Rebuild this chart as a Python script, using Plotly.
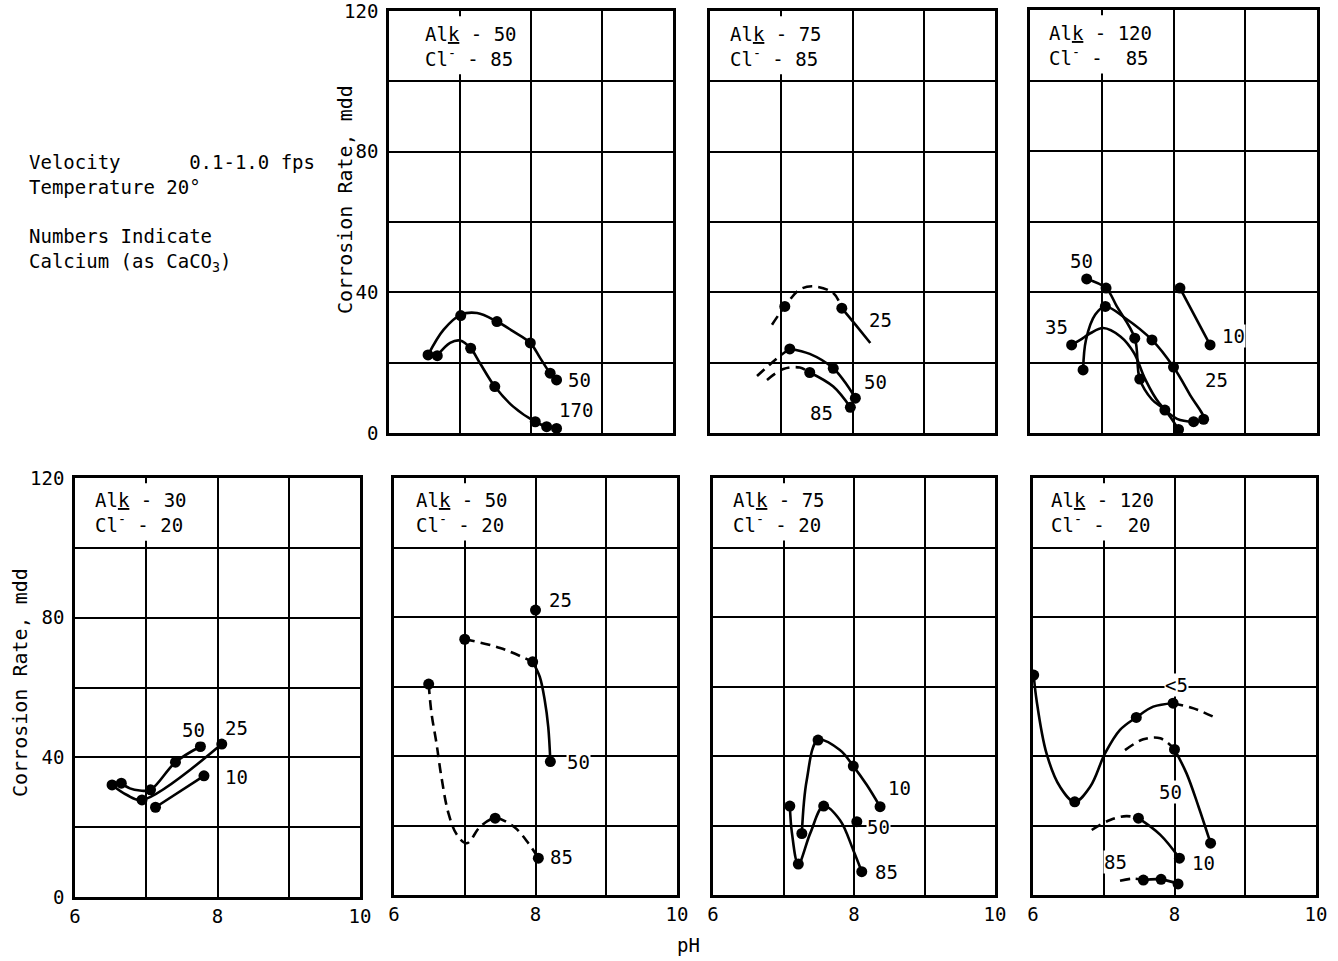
import plotly.graph_objects as go

W, H = 1338, 961
FONT = "DejaVu Sans Mono"
FS = 19
NB = "\u00a0"

# ---------------- axis ticks ----------------
x_tick_vals = [6, 7, 8, 9, 10]
x_tick_text = ["6", " ", "8", " ", "10"]
y_tick_vals = [0, 20, 40, 60, 80, 100, 120]
y_tick_text = ["0", " ", "40", " ", "80", " ", "120"]

# ---------------- panel: Alk 50 / Cl 85 (top) ----------------
t2_ca50_line_x = [6.55, 6.77, 7.01, 7.24, 7.52, 7.75, 7.99, 8.13, 8.27, 8.36]
t2_ca50_line_y = [22.2, 29.4, 33.6, 34.1, 31.7, 28.9, 25.6, 21.3, 17.0, 15.1]
t2_ca50_pts_x = [6.55, 7.01, 7.52, 7.99, 8.27, 8.36]
t2_ca50_pts_y = [22.2, 33.4, 31.7, 25.6, 17.0, 15.1]
t2_ca170_line_x = [6.68, 6.86, 7.00, 7.15, 7.28, 7.49, 7.75, 8.06, 8.22, 8.36]
t2_ca170_line_y = [22.0, 25.6, 26.3, 24.1, 19.9, 13.2, 7.5, 3.2, 1.8, 1.3]
t2_ca170_pts_x = [6.68, 7.15, 7.49, 8.06, 8.22, 8.36]
t2_ca170_pts_y = [22.0, 24.1, 13.2, 3.2, 1.8, 1.3]
t2_labels = ["50", "170"]
t2_label_x = [8.69, 8.64]
t2_label_y = [15.1, 6.6]

# ---------------- panel: Alk 75 / Cl 85 (top) ----------------
t3_ca25_dash_x = [6.87, 7.05, 7.26, 7.45, 7.73, 7.85]
t3_ca25_dash_y = [30.8, 36.0, 40.8, 41.7, 39.8, 35.5]
t3_ca25_solid_x = [7.85, 8.05, 8.25]
t3_ca25_solid_y = [35.5, 30.6, 25.6]
t3_ca25_pts_x = [7.05, 7.85]
t3_ca25_pts_y = [36.0, 35.5]
t3_ca50_dash_x = [6.66, 6.98, 7.12]
t3_ca50_dash_y = [16.2, 21.9, 23.9]
t3_ca50_solid_x = [7.12, 7.40, 7.73, 7.92, 8.04]
t3_ca50_solid_y = [23.9, 22.5, 18.4, 13.7, 9.9]
t3_ca50_pts_x = [7.12, 7.73, 8.04]
t3_ca50_pts_y = [23.9, 18.4, 9.9]
t3_ca85_dash_x = [6.80, 7.03, 7.26, 7.40]
t3_ca85_dash_y = [15.1, 18.2, 18.6, 17.2]
t3_ca85_solid_x = [7.40, 7.73, 7.97]
t3_ca85_solid_y = [17.2, 13.2, 7.3]
t3_ca85_pts_x = [7.40, 7.97]
t3_ca85_pts_y = [17.2, 7.3]
t3_labels = ["25", "50", "85"]
t3_label_x = [8.39, 8.32, 7.57]
t3_label_y = [32.2, 14.6, 5.6]

# ---------------- panel: Alk 120 / Cl 85 (top) ----------------
t4_ca50_line_x = [6.79, 7.06, 7.21, 7.46, 7.53, 7.70, 7.88, 8.07]
t4_ca50_line_y = [43.7, 41.1, 35.9, 26.9, 15.3, 9.5, 6.5, 1.0]
t4_ca50_pts_x = [6.79, 7.06, 7.46, 7.53, 7.88, 8.07]
t4_ca50_pts_y = [43.7, 41.1, 26.9, 15.3, 6.5, 1.0]
t4_ca35_line_x = [6.58, 6.70, 6.84, 7.02, 7.26, 7.45, 7.60, 7.80, 8.05, 8.28]
t4_ca35_line_y = [25.0, 26.4, 28.3, 29.8, 27.4, 22.7, 15.5, 8.5, 4.0, 3.2]
t4_ca35_pts_x = [6.58, 8.28]
t4_ca35_pts_y = [25.0, 3.2]
t4_ca25_line_x = [6.74, 6.78, 6.91, 7.05, 7.32, 7.70, 8.00, 8.23, 8.42, 8.28]
t4_ca25_line_y = [17.9, 26.4, 33.6, 35.9, 32.7, 26.4, 18.7, 10.8, 3.9, 3.2]
t4_ca25_pts_x = [6.74, 7.05, 7.70, 8.00, 8.42]
t4_ca25_pts_y = [17.9, 35.9, 26.4, 18.7, 3.9]
t4_ca10_line_x = [8.09, 8.51]
t4_ca10_line_y = [41.1, 25.0]
t4_labels = ["50", "35", "10", "25"]
t4_label_x = [6.72, 6.37, 8.83, 8.60]
t4_label_y = [48.7, 30.2, 27.4, 15.1]

# ---------------- panel: Alk 30 / Cl 20 (bottom) ----------------
b1_ca50_line_x = [6.65, 6.77, 6.91, 7.06, 7.41, 7.76]
b1_ca50_line_y = [32.6, 31.1, 30.5, 30.7, 38.6, 43.1]
b1_ca50_pts_x = [6.65, 7.06, 7.41, 7.76]
b1_ca50_pts_y = [32.6, 30.7, 38.6, 43.1]
b1_ca25_line_x = [6.52, 6.73, 6.94, 8.06]
b1_ca25_line_y = [32.1, 29.2, 27.8, 43.8]
b1_ca25_pts_x = [6.52, 6.94, 8.06]
b1_ca25_pts_y = [32.1, 27.8, 43.8]
b1_ca10_line_x = [7.13, 7.81]
b1_ca10_line_y = [25.7, 34.7]
b1_labels = ["50", "25", "10"]
b1_label_x = [7.66, 8.27, 8.27]
b1_label_y = [47.9, 48.3, 34.5]

# ---------------- panel: Alk 50 / Cl 20 (bottom) ----------------
b2_ca25_pts_x = [8.00]
b2_ca25_pts_y = [82.0]
b2_ca50_dash_x = [7.00, 7.50, 7.96]
b2_ca50_dash_y = [73.6, 71.1, 67.1]
b2_ca50_solid_x = [7.96, 8.06, 8.13, 8.18, 8.21]
b2_ca50_solid_y = [67.1, 62.8, 56.1, 48.4, 38.4]
b2_ca50_pts_x = [7.00, 7.96, 8.21]
b2_ca50_pts_y = [73.6, 67.1, 38.4]
b2_ca85_dash_x = [6.49, 6.53, 6.60, 6.67, 6.77, 6.89, 7.03, 7.22, 7.43, 7.69, 7.90, 8.04]
b2_ca85_dash_y = [60.7, 52.3, 43.7, 34.0, 23.5, 17.3, 14.9, 19.7, 22.1, 19.7, 14.9, 10.6]
b2_ca85_pts_x = [6.49, 7.43, 8.04]
b2_ca85_pts_y = [60.7, 22.1, 10.6]
b2_labels = ["25", "50", "85"]
b2_label_x = [8.35, 8.61, 8.37]
b2_label_y = [84.9, 38.4, 11.0]

# ---------------- panel: Alk 75 / Cl 20 (bottom) ----------------
b3_ca10_line_x = [7.26, 7.33, 7.49, 7.80, 7.99, 8.18, 8.37]
b3_ca10_line_y = [17.7, 33.1, 44.6, 41.7, 37.1, 31.7, 25.4]
b3_ca10_pts_x = [7.26, 7.49, 7.99, 8.37]
b3_ca10_pts_y = [17.7, 44.6, 37.1, 25.4]
b3_ca85_line_x = [7.09, 7.12, 7.21, 7.38, 7.57, 7.80, 7.99, 8.11]
b3_ca85_line_y = [25.6, 17.8, 8.9, 17.8, 25.6, 21.6, 12.9, 6.7]
b3_ca85_pts_x = [7.09, 7.21, 7.57, 8.11]
b3_ca85_pts_y = [25.6, 8.9, 25.6, 6.7]
b3_ca50_pts_x = [8.04]
b3_ca50_pts_y = [21.1]
b3_labels = ["10", "50", "85"]
b3_label_x = [8.65, 8.35, 8.46]
b3_label_y = [30.7, 19.7, 6.7]

# ---------------- panel: Alk 120 / Cl 20 (bottom) ----------------
b4_ca5_solid_x = [6.01, 6.05, 6.19, 6.38, 6.59, 6.81, 7.02, 7.23, 7.46, 7.70, 7.98]
b4_ca5_solid_y = [63.3, 56.1, 40.8, 31.2, 26.8, 31.2, 40.8, 47.5, 51.1, 54.2, 55.2]
b4_ca5_dash_x = [7.98, 8.27, 8.60]
b4_ca5_dash_y = [55.2, 53.7, 50.8]
b4_ca5_pts_x = [6.01, 6.59, 7.46, 7.98]
b4_ca5_pts_y = [63.3, 26.8, 51.1, 55.2]
b4_ca50_dash_x = [7.30, 7.56, 7.80, 8.00]
b4_ca50_dash_y = [41.7, 44.8, 45.1, 41.9]
b4_ca50_solid_x = [8.00, 8.17, 8.34, 8.51]
b4_ca50_solid_y = [41.9, 35.0, 25.4, 14.9]
b4_ca50_pts_x = [8.00, 8.51]
b4_ca50_pts_y = [41.9, 14.9]
b4_ca10_dash_x = [6.83, 7.09, 7.32, 7.49]
b4_ca10_dash_y = [18.7, 21.6, 22.7, 22.1]
b4_ca10_solid_x = [7.49, 7.80, 8.07]
b4_ca10_solid_y = [22.1, 17.3, 10.6]
b4_ca10_pts_x = [7.49, 8.07]
b4_ca10_pts_y = [22.1, 10.6]
b4_ca85_dash_x = [7.23, 7.42, 7.56]
b4_ca85_dash_y = [4.1, 4.7, 4.3]
b4_ca85_solid_x = [7.56, 7.81, 8.05]
b4_ca85_solid_y = [4.3, 4.5, 3.2]
b4_ca85_pts_x = [7.56, 7.81, 8.05]
b4_ca85_pts_y = [4.3, 4.5, 3.2]
b4_labels = ["&lt;5", "50", "10", "85"]
b4_label_x = [8.03, 7.95, 8.41, 7.17]
b4_label_y = [60.4, 29.7, 9.1, 9.6]

# ---------------- panel headings ----------------
panel_alk = ["30", "50", "75", "120", "50", "75", "120"]
panel_cl = ["20", "20", "20", "20", "85", "85", "85"]

# ---------------- layout geometry (pixels) ----------------
# order: B1, B2, B3, B4, T2, T3, T4
panel_px_x = [(75, 360), (394, 677), (713, 995), (1033, 1316), (389, 673), (710, 995), (1030, 1317)]
panel_px_y = [(478, 897), (478, 895), (478, 895), (478, 895), (11, 433), (11, 433), (10, 433)]
head_x = [6.25, 6.28, 6.26, 6.22, 6.48, 6.25, 6.24]

fig = go.Figure()


def ax(i):
    return ("x" if i == 1 else f"x{i}"), ("y" if i == 1 else f"y{i}")


def curve(i, x, y, dash=None):
    xa, ya = ax(i)
    fig.add_trace(go.Scatter(x=x, y=y, xaxis=xa, yaxis=ya, mode="lines",
                             line=dict(color="black", width=2.6, shape="spline", smoothing=1.0,
                                       dash=dash if dash else "solid"),
                             showlegend=False, hoverinfo="skip"))


def points(i, x, y):
    xa, ya = ax(i)
    fig.add_trace(go.Scatter(x=x, y=y, xaxis=xa, yaxis=ya, mode="markers",
                             marker=dict(color="black", size=11),
                             showlegend=False, hoverinfo="skip"))


def labels(i, texts, xs, ys):
    xa, ya = ax(i)
    for t, xv, yv in zip(texts, xs, ys):
        fig.add_annotation(x=xv, y=yv, xref=xa, yref=ya, text=t, showarrow=False,
                           xanchor="center", yanchor="middle",
                           font=dict(family=FONT, size=FS, color="black"),
                           bgcolor="white", borderpad=0)


DASH = "10px,6px"

# B1
curve(1, b1_ca50_line_x, b1_ca50_line_y); points(1, b1_ca50_pts_x, b1_ca50_pts_y)
curve(1, b1_ca25_line_x, b1_ca25_line_y); points(1, b1_ca25_pts_x, b1_ca25_pts_y)
curve(1, b1_ca10_line_x, b1_ca10_line_y); points(1, b1_ca10_line_x, b1_ca10_line_y)
labels(1, b1_labels, b1_label_x, b1_label_y)
# B2
points(2, b2_ca25_pts_x, b2_ca25_pts_y)
curve(2, b2_ca50_dash_x, b2_ca50_dash_y, DASH); curve(2, b2_ca50_solid_x, b2_ca50_solid_y)
points(2, b2_ca50_pts_x, b2_ca50_pts_y)
curve(2, b2_ca85_dash_x, b2_ca85_dash_y, DASH); points(2, b2_ca85_pts_x, b2_ca85_pts_y)
labels(2, b2_labels, b2_label_x, b2_label_y)
# B3
curve(3, b3_ca10_line_x, b3_ca10_line_y); points(3, b3_ca10_pts_x, b3_ca10_pts_y)
curve(3, b3_ca85_line_x, b3_ca85_line_y); points(3, b3_ca85_pts_x, b3_ca85_pts_y)
points(3, b3_ca50_pts_x, b3_ca50_pts_y)
labels(3, b3_labels, b3_label_x, b3_label_y)
# B4
curve(4, b4_ca5_solid_x, b4_ca5_solid_y); curve(4, b4_ca5_dash_x, b4_ca5_dash_y, DASH)
points(4, b4_ca5_pts_x, b4_ca5_pts_y)
curve(4, b4_ca50_dash_x, b4_ca50_dash_y, DASH); curve(4, b4_ca50_solid_x, b4_ca50_solid_y)
points(4, b4_ca50_pts_x, b4_ca50_pts_y)
curve(4, b4_ca10_dash_x, b4_ca10_dash_y, DASH); curve(4, b4_ca10_solid_x, b4_ca10_solid_y)
points(4, b4_ca10_pts_x, b4_ca10_pts_y)
curve(4, b4_ca85_dash_x, b4_ca85_dash_y, DASH); curve(4, b4_ca85_solid_x, b4_ca85_solid_y)
points(4, b4_ca85_pts_x, b4_ca85_pts_y)
labels(4, b4_labels, b4_label_x, b4_label_y)
# T2
curve(5, t2_ca50_line_x, t2_ca50_line_y); points(5, t2_ca50_pts_x, t2_ca50_pts_y)
curve(5, t2_ca170_line_x, t2_ca170_line_y); points(5, t2_ca170_pts_x, t2_ca170_pts_y)
labels(5, t2_labels, t2_label_x, t2_label_y)
# T3
curve(6, t3_ca25_dash_x, t3_ca25_dash_y, DASH); curve(6, t3_ca25_solid_x, t3_ca25_solid_y)
points(6, t3_ca25_pts_x, t3_ca25_pts_y)
curve(6, t3_ca50_dash_x, t3_ca50_dash_y, DASH); curve(6, t3_ca50_solid_x, t3_ca50_solid_y)
points(6, t3_ca50_pts_x, t3_ca50_pts_y)
curve(6, t3_ca85_dash_x, t3_ca85_dash_y, DASH); curve(6, t3_ca85_solid_x, t3_ca85_solid_y)
points(6, t3_ca85_pts_x, t3_ca85_pts_y)
labels(6, t3_labels, t3_label_x, t3_label_y)
# T4
curve(7, t4_ca50_line_x, t4_ca50_line_y); points(7, t4_ca50_pts_x, t4_ca50_pts_y)
curve(7, t4_ca35_line_x, t4_ca35_line_y); points(7, t4_ca35_pts_x, t4_ca35_pts_y)
curve(7, t4_ca25_line_x, t4_ca25_line_y); points(7, t4_ca25_pts_x, t4_ca25_pts_y)
curve(7, t4_ca10_line_x, t4_ca10_line_y); points(7, t4_ca10_line_x, t4_ca10_line_y)
labels(7, t4_labels, t4_label_x, t4_label_y)

layout = dict(width=W, height=H, autosize=False,
              margin=dict(l=0, r=0, t=0, b=0, autoexpand=False),
              paper_bgcolor="white", plot_bgcolor="white",
              font=dict(family=FONT, size=FS, color="black"))

for i in range(1, 8):
    (px0, px1), (py0, py1) = panel_px_x[i - 1], panel_px_y[i - 1]
    bottom_row = i <= 4
    xk = "xaxis" if i == 1 else f"xaxis{i}"
    yk = "yaxis" if i == 1 else f"yaxis{i}"
    xa, ya = ax(i)
    layout[xk] = dict(domain=[px0 / W, px1 / W], range=[6, 10], anchor=ya, automargin=False,
                      tickvals=x_tick_vals, ticktext=x_tick_text, showticklabels=bottom_row,
                      showgrid=True, gridcolor="black", gridwidth=2, zeroline=False,
                      showline=True, mirror=True, linecolor="black", linewidth=2.6,
                      ticks="", ticklabelstandoff=0, ticklabeloverflow="allow",
                      tickfont=dict(family=FONT, size=FS), fixedrange=True)
    layout[yk] = dict(domain=[1 - py1 / H, 1 - py0 / H], range=[0, 120], anchor=xa, automargin=False,
                      tickvals=y_tick_vals, ticktext=y_tick_text,
                      showticklabels=(i in (1, 5)),
                      showgrid=True, gridcolor="black", gridwidth=2, zeroline=False,
                      showline=True, mirror=True, linecolor="black", linewidth=2.6,
                      ticks="", ticklabelstandoff=4, ticklabeloverflow="allow",
                      tickfont=dict(family=FONT, size=FS), fixedrange=True)

fig.update_layout(**layout)

# label boxes (white area hiding the x=7 grid line) and headings
for i in range(1, 8):
    xa, ya = ax(i)
    fig.add_shape(type="rect", xref=xa, yref=ya, x0=6.03, x1=7.96, y0=102, y1=118.5,
                  fillcolor="white", line=dict(width=0), layer="above")
    alk = panel_alk[i - 1]
    cl = panel_cl[i - 1]
    cl_num = cl if len(alk) == len(cl) else NB * (len(alk) - len(cl)) + cl
    txt = ("Al<u>k</u>" + NB + "-" + NB + alk + "<br>" +
           "Cl<sup>-</sup>" + NB + "-" + NB + cl_num)
    fig.add_annotation(x=head_x[i - 1], y=110, xref=xa, yref=ya, text=txt, showarrow=False,
                       xanchor="left", yanchor="middle", align="left",
                       font=dict(family=FONT, size=FS, color="black"))

# axis titles
fig.add_annotation(x=345 / W, y=1 - 200 / H, xref="paper", yref="paper",
                   xanchor="center", yanchor="middle",
                   text="Corrosion Rate, mdd", textangle=-90, showarrow=False,
                   font=dict(family=FONT, size=20))
fig.add_annotation(x=20 / W, y=1 - 683 / H, xref="paper", yref="paper",
                   xanchor="center", yanchor="middle",
                   text="Corrosion Rate, mdd", textangle=-90, showarrow=False,
                   font=dict(family=FONT, size=20))
fig.add_annotation(x=688 / W, y=1 - 945 / H, xref="paper", yref="paper",
                   xanchor="center", yanchor="middle",
                   text="pH", showarrow=False, font=dict(family=FONT, size=FS))

# notes block
note = ("Velocity" + NB * 6 + "0.1-1.0 fps<br>"
        "Temperature" + NB + "20°<br><br>"
        "Numbers Indicate<br>"
        "Calcium (as CaCO<sub>3</sub>)")
fig.add_annotation(x=27 / W, y=1 - 213 / H, xref="paper", yref="paper", text=note,
                   showarrow=False, xanchor="left", yanchor="middle", align="left",
                   font=dict(family=FONT, size=FS))

fig.write_html("out.html", config={"displayModeBar": False},
               post_script="document.body.style.margin='0';document.body.style.overflow='hidden';")
